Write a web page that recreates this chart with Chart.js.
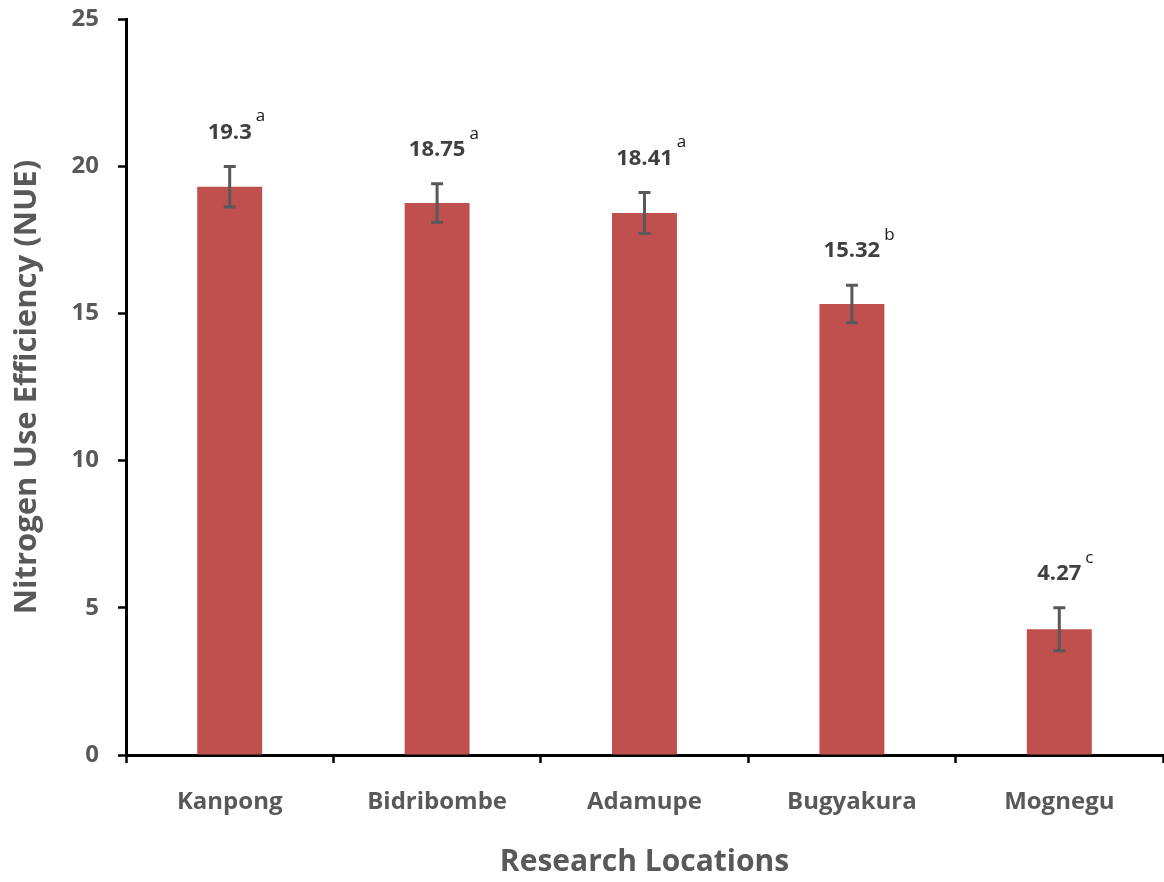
<!DOCTYPE html>
<html>
<head>
<meta charset="utf-8">
<script src="https://cdn.jsdelivr.net/npm/chart.js@4"></script>
<style>
  html, body { margin: 0; padding: 0; background: #ffffff; }
  #chart { display: block; }
</style>
</head>
<body>
<canvas id="chart" width="1164" height="882"></canvas>
<script>
// Nitrogen use efficiency by research location
const locations = ['Kanpong', 'Bidribombe', 'Adamupe', 'Bugyakura', 'Mognegu'];
const nueValues = [19.3, 18.75, 18.41, 15.32, 4.27];
const nueErrors = [0.69, 0.65, 0.70, 0.64, 0.73];
const groupLetters = ['a', 'a', 'a', 'b', 'c'];
const yTicks = [0, 5, 10, 15, 20, 25];

const FONT = '"Open Sans", Lato, sans-serif';

// Error bars plus value labels with significance letters
const annotatePlugin = {
  id: 'annotate',
  afterDatasetsDraw(chart) {
    const ctx = chart.ctx;
    const meta = chart.getDatasetMeta(0);
    const y = chart.scales.y;
    ctx.save();
    meta.data.forEach((bar, i) => {
      const x = bar.x;
      const top = y.getPixelForValue(nueValues[i] + nueErrors[i]);
      const bottom = y.getPixelForValue(nueValues[i] - nueErrors[i]);
      // whisker
      ctx.strokeStyle = '#595959';
      ctx.lineWidth = 3;
      ctx.lineCap = 'butt';
      ctx.beginPath();
      ctx.moveTo(x, top); ctx.lineTo(x, bottom);
      ctx.moveTo(x - 6, top); ctx.lineTo(x + 6, top);
      ctx.moveTo(x - 6, bottom); ctx.lineTo(x + 6, bottom);
      ctx.stroke();

      // value label
      const labelY = top - 34;
      const text = String(nueValues[i]);
      ctx.font = 'bold 22px ' + FONT;
      ctx.fillStyle = '#404040';
      ctx.textAlign = 'center';
      ctx.textBaseline = 'middle';
      ctx.fillText(text, x, labelY);
      const w = ctx.measureText(text).width;

      // letter in superscript
      ctx.font = '17px ' + FONT;
      ctx.fillStyle = '#1a1a1a';
      ctx.textAlign = 'left';
      ctx.textBaseline = 'alphabetic';
      ctx.fillText(groupLetters[i], x + w / 2 + 4, labelY - 11);
    });
    ctx.restore();
  }
};

new Chart(document.getElementById('chart'), {
  type: 'bar',
  data: {
    labels: locations,
    datasets: [{
      data: nueValues,
      backgroundColor: '#C0504D',
      borderWidth: 0,
      categoryPercentage: 1.0,
      barPercentage: 0.313
    }]
  },
  options: {
    responsive: false,
    animation: false,
    devicePixelRatio: 1,
    layout: { padding: { top: 19, right: 1, left: 0, bottom: 0 } },
    plugins: {
      legend: { display: false },
      tooltip: { enabled: false }
    },
    scales: {
      x: {
        afterFit(scale) {
          scale.height = 127;
          scale.paddingLeft = 0;
          scale.paddingRight = 0;
        },
        border: { display: true, color: '#000000', width: 3 },
        grid: {
          display: true,
          drawOnChartArea: false,
          drawTicks: true,
          tickLength: 8,
          tickWidth: 2.5,
          tickColor: '#000000',
          offset: true
        },
        ticks: {
          color: '#595959',
          padding: 25,
          font: { family: FONT, size: 24, weight: 'bold' }
        },
        title: {
          display: true,
          text: 'Research Locations',
          color: '#595959',
          padding: { top: 0, bottom: 2 },
          font: { family: FONT, size: 30, weight: 'bold' }
        }
      },
      y: {
        min: 0,
        max: 25,
        afterFit(scale) {
          scale.width = 126;
          scale.paddingTop = 0;
          scale.paddingBottom = 0;
        },
        afterBuildTicks(scale) { scale.ticks = yTicks.map(v => ({ value: v })); },
        border: { display: true, color: '#000000', width: 3 },
        grid: {
          display: true,
          drawOnChartArea: false,
          drawTicks: true,
          tickLength: 8,
          tickWidth: 2.5,
          tickColor: '#000000'
        },
        ticks: {
          color: '#595959',
          padding: 19,
          font: { family: FONT, size: 24, weight: 'bold' }
        },
        title: {
          display: true,
          text: 'Nitrogen Use Efficiency (NUE)',
          color: '#595959',
          padding: { top: 9, bottom: 0 },
          font: { family: FONT, size: 31, weight: 'bold' }
        }
      }
    }
  },
  plugins: [annotatePlugin]
});
</script>
</body>
</html>
